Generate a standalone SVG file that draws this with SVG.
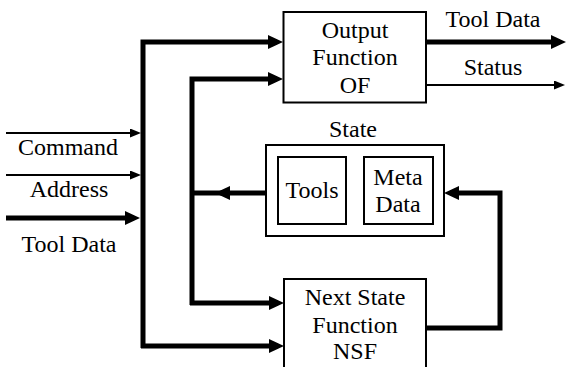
<svg xmlns="http://www.w3.org/2000/svg" width="567" height="367" viewBox="0 0 567 367">
  <defs>
    <style>
      .box { fill: #fff; stroke: #000; stroke-width: 2; }
      .thick { fill: none; stroke: #000; stroke-width: 5; stroke-linejoin: miter; }
      .thin { fill: none; stroke: #000; stroke-width: 2; }
      .lbl { font-family: 'Liberation Serif', 'Times New Roman', Times, serif; font-size: 24px; fill: #000; text-anchor: middle; }
    </style>
    <marker id="arrowThick" markerUnits="userSpaceOnUse" markerWidth="15" markerHeight="14" refX="9" refY="7" orient="auto">
      <path d="M0,0 L15,7 L0,14 z" fill="#000"/>
    </marker>
    <marker id="arrowThin" markerUnits="userSpaceOnUse" markerWidth="11" markerHeight="9" refX="8" refY="4.5" orient="auto">
      <path d="M0,0 L11,4.5 L0,9 z" fill="#000"/>
    </marker>
  </defs>

  <rect width="567" height="367" fill="#fff"/>

  <!-- connectors -->
  <g id="connectors">
    <!-- inputs into the left bus -->
    <path class="thin" d="M6 133 H138" marker-end="url(#arrowThin)"/>
    <path class="thin" d="M6 175 H138" marker-end="url(#arrowThin)"/>
    <path class="thick" d="M6 218 H134" marker-end="url(#arrowThick)"/>
    <!-- outer bus to OF and NSF -->
    <path class="thick" d="M143 348 V42 H277" marker-end="url(#arrowThick)"/>
    <path class="thick" d="M141 346 H278" marker-end="url(#arrowThick)"/>
    <!-- inner bus to OF and NSF -->
    <path class="thick" d="M192 305 V79 H277" marker-end="url(#arrowThick)"/>
    <path class="thick" d="M190 303 H278" marker-end="url(#arrowThick)"/>
    <!-- state read back to the inner bus -->
    <path class="thick" d="M266 193 H221" marker-end="url(#arrowThick)"/>
    <path class="thick" d="M222 193 H192"/>
    <!-- next state feedback -->
    <path class="thick" d="M426 328 H500 V193 H450" marker-end="url(#arrowThick)"/>
    <!-- outputs -->
    <path class="thick" d="M426 42 H560" marker-end="url(#arrowThick)"/>
    <path class="thin" d="M426 85 H562" marker-end="url(#arrowThin)"/>
  </g>

  <!-- input labels -->
  <g id="inputs">
    <text class="lbl" x="68" y="155">Command</text>
    <text class="lbl" x="69" y="197">Address</text>
    <text class="lbl" x="69" y="252">Tool Data</text>
  </g>

  <!-- output labels -->
  <g id="outputs">
    <text class="lbl" x="493" y="27">Tool Data</text>
    <text class="lbl" x="493" y="75">Status</text>
  </g>

  <!-- Output Function -->
  <g id="of">
    <rect class="box" x="283.5" y="12" width="142.5" height="90.5"/>
    <text class="lbl" x="355" y="38">Output</text>
    <text class="lbl" x="355" y="65">Function</text>
    <text class="lbl" x="355" y="93">OF</text>
  </g>

  <!-- State -->
  <g id="state">
    <text class="lbl" x="353" y="137">State</text>
    <rect class="box" x="266" y="145" width="178" height="91"/>
    <g id="tools">
      <rect class="box" x="278" y="157" width="68" height="67"/>
      <text class="lbl" x="312" y="198">Tools</text>
    </g>
    <g id="meta">
      <rect class="box" x="364" y="157" width="69" height="67"/>
      <text class="lbl" x="398" y="185">Meta</text>
      <text class="lbl" x="398" y="212">Data</text>
    </g>
  </g>

  <!-- Next State Function -->
  <g id="nsf">
    <rect class="box" x="284" y="279" width="142" height="100"/>
    <text class="lbl" x="355" y="305">Next State</text>
    <text class="lbl" x="355" y="333">Function</text>
    <text class="lbl" x="355" y="359">NSF</text>
  </g>
</svg>
